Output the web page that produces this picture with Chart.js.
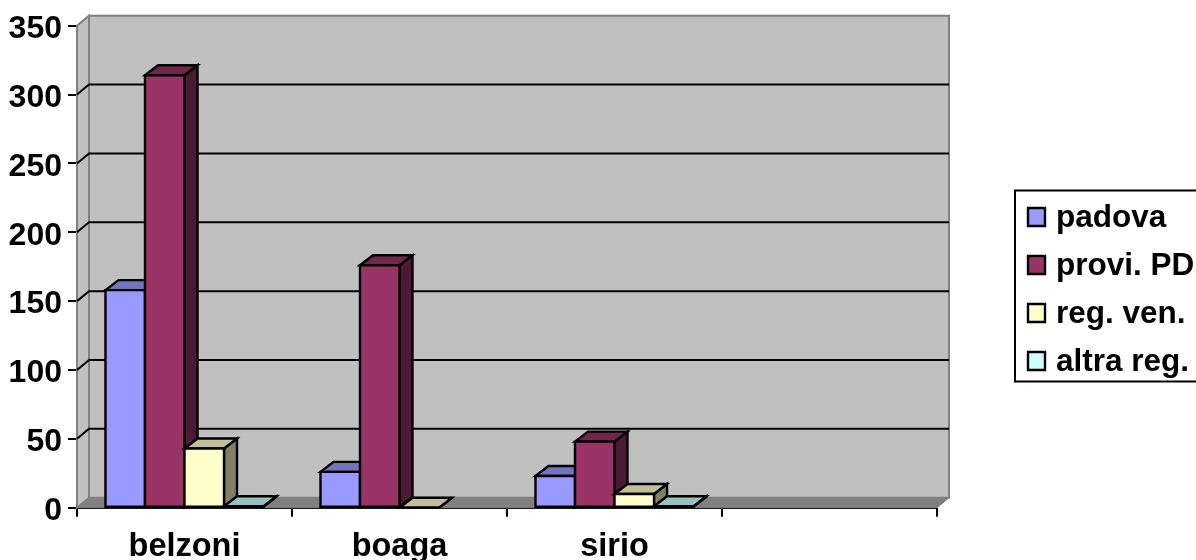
<!DOCTYPE html>
<html>
<head>
<meta charset="utf-8">
<style>
	html, body { margin: 0; padding: 0; background: #fff; overflow: hidden; }
	#wrap { width: 1196px; height: 560px; }
</style>
<script src="https://cdn.jsdelivr.net/npm/chart.js@4"></script>
</head>
<body>
<div id="wrap"><canvas id="myChart" width="1196" height="560"></canvas></div>
<script>
const categories = ["belzoni", "boaga", "sirio", ""];
const padova = [158, 26, 23, null];
const proviPD = [314, 176, 48, null];
const regVen = [43, 0, 10, null];
const altraReg = [1, null, 1, null];
const seriesNames = ["padova", "provi. PD", "reg. ven.", "altra reg."];
const seriesFront = ["#9999FF", "#993366", "#FFFFCC", "#CCFFFF"];
const seriesTop = ["#7373BF", "#73264D", "#BFBF99", "#99BFBF"];
const seriesSide = ["#4D4D80", "#4D1A33", "#808066", "#668080"];

const fontName = '"Liberation Sans", Arial, sans-serif';
const wallDx = 12, wallDy = 10;
const barDx = 13, barDy = 10;
const edge = 2.4;

function poly(ctx, pts, fill, stroke, width) {
	ctx.beginPath();
	ctx.moveTo(pts[0][0], pts[0][1]);
	for (let i = 1; i < pts.length; i++) ctx.lineTo(pts[i][0], pts[i][1]);
	ctx.closePath();
	if (fill) { ctx.fillStyle = fill; ctx.fill(); }
	if (stroke) { ctx.strokeStyle = stroke; ctx.lineWidth = width; ctx.lineJoin = "miter"; ctx.stroke(); }
}

const wallsPlugin = {
	id: "walls",
	// y labels sit a little under their ticks in the original
	beforeDraw(chart) {
		if (chart.$labelsMoved) return;
		chart.scales.y.getLabelItems().forEach(item => { item.textOffset += 3.5; });
		chart.$labelsMoved = true;
	},
	// walls, floor and the gridlines that run round them
	beforeDatasetsDraw(chart) {
		const ctx = chart.ctx;
		const a = chart.chartArea;
		const y = chart.scales.y;
		ctx.save();
		poly(ctx, [[a.left + wallDx, a.top - wallDy], [a.right + wallDx, a.top - wallDy], [a.right + wallDx, a.bottom - wallDy], [a.left + wallDx, a.bottom - wallDy]], "#C0C0C0", "#808080", 2);
		poly(ctx, [[a.left, a.top], [a.left + wallDx, a.top - wallDy], [a.left + wallDx, a.bottom - wallDy], [a.left, a.bottom]], "#C0C0C0", "#808080", 2);
		poly(ctx, [[a.left, a.bottom], [a.left + wallDx, a.bottom - wallDy], [a.right + wallDx, a.bottom - wallDy], [a.right, a.bottom]], "#808080", "#808080", 1);
		ctx.strokeStyle = "#000";
		ctx.lineWidth = 2;
		y.ticks.forEach(t => {
			if (t.value === 0 || t.value === y.max) return;
			const py = y.getPixelForValue(t.value);
			ctx.beginPath();
			ctx.moveTo(a.left, py);
			ctx.lineTo(a.left + wallDx, py - wallDy);
			ctx.lineTo(a.right + wallDx, py - wallDy);
			ctx.stroke();
		});
		ctx.restore();
	},
	// bars again from left to right so each one sits over its neighbour's side
	afterDatasetsDraw(chart) {
		const ctx = chart.ctx;
		ctx.save();
		chart.data.datasets.forEach((ds, i) => {
			chart.getDatasetMeta(i).data.forEach((bar, j) => {
				if (ds.data[j] === null) return;
				const l = bar.x - bar.width / 2, r = bar.x + bar.width / 2;
				poly(ctx, [[r, bar.y], [r + barDx, bar.y - barDy], [r + barDx, bar.base - barDy], [r, bar.base]], seriesSide[i], "#000", edge);
				poly(ctx, [[l, bar.y], [l + barDx, bar.y - barDy], [r + barDx, bar.y - barDy], [r, bar.y]], seriesTop[i], "#000", edge);
				poly(ctx, [[l, bar.y], [r, bar.y], [r, bar.base], [l, bar.base]], seriesFront[i], "#000", edge);
			});
		});
		ctx.restore();
	},
	// the boxed legend sits apart from the plot, cut by the right edge
	afterDraw(chart) {
		const ctx = chart.ctx;
		ctx.save();
		poly(ctx, [[1015, 190.5], [1200, 190.5], [1200, 381.5], [1015, 381.5]], "#fff", "#000", 2);
		ctx.font = "bold 31.5px " + fontName;
		ctx.textBaseline = "alphabetic";
		ctx.textAlign = "left";
		seriesNames.forEach((name, i) => {
			const top = 208 + i * 48;
			poly(ctx, [[1028, top], [1045, top], [1045, top + 18], [1028, top + 18]], seriesFront[i], "#000", edge);
			ctx.fillStyle = "#000";
			ctx.fillText(name, 1056, top + 19);
		});
		ctx.restore();
	}
};

new Chart("myChart", {
	type: "bar",
	data: {
		labels: categories,
		datasets: seriesNames.map((name, i) => ({
			label: name,
			data: [padova, proviPD, regVen, altraReg][i],
			backgroundColor: seriesFront[i],
			borderWidth: 0
		}))
	},
	options: {
		responsive: false,
		animation: false,
		devicePixelRatio: 1,
		layout: { padding: { top: 25.7, right: 259, left: 0, bottom: 0 } },
		plugins: { legend: { display: false }, tooltip: { enabled: false } },
		datasets: { bar: { categoryPercentage: 0.735, barPercentage: 1 } },
		scales: {
			x: {
				afterFit: s => { s.height = 52.3; },
				grid: { drawOnChartArea: false, drawTicks: true, tickLength: 9, color: "#000", lineWidth: 2 },
				border: { color: "#000", width: 2 },
				ticks: { color: "#000", font: { family: fontName, size: 32.5, weight: "bold" }, padding: 10.5, maxRotation: 0, autoSkip: false }
			},
			y: {
				min: 0,
				max: 350,
				afterFit: s => { s.width = 77; },
				grid: { drawOnChartArea: false, drawTicks: true, tickLength: 9, color: "#000", lineWidth: 2 },
				border: { color: "#000", width: 2 },
				ticks: { stepSize: 50, color: "#000", font: { family: fontName, size: 32, weight: "bold" }, padding: 6 }
			}
		}
	},
	plugins: [wallsPlugin]
});
</script>
</body>
</html>
